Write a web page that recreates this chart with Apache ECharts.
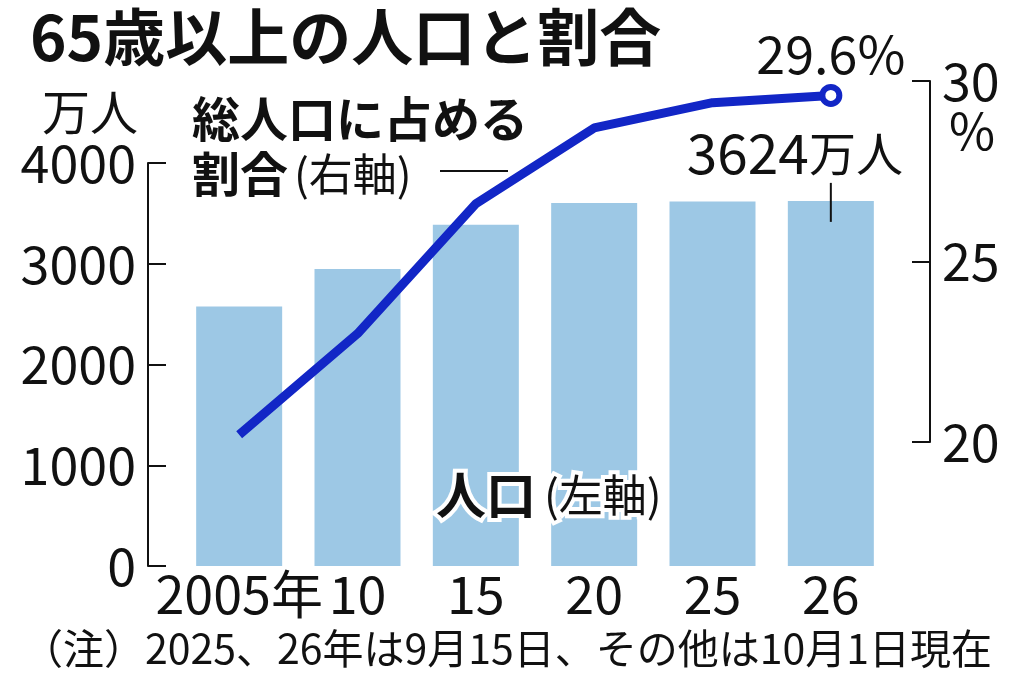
<!DOCTYPE html>
<html>
<head>
<meta charset="UTF-8">
<title>65歳以上の人口と割合</title>
<script src="https://cdn.jsdelivr.net/npm/echarts@6/dist/echarts.min.js"></script>
<style>
html, body { margin: 0; padding: 0; background: #fff; }
#chart { width: 1024px; height: 678px; }
</style>
</head>
<body>
<div id="chart"></div>
<script>
// データ
var years = ['2005年', '10', '15', '20', '25', '26'];
var population = [2576, 2948, 3387, 3603, 3619, 3624];   // 万人（左軸）
var share = [20.2, 23.0, 26.6, 28.7, 29.4, 29.6];        // %（右軸）
var popAxis = { min: 0, max: 4000, interval: 1000 };
var shareAxis = { min: 20, max: 30, interval: 5 };

var FONT = "'Noto Sans CJK JP', 'Noto Sans', sans-serif";
var INK = '#111';
var BLUE = '#1226c6';
var BAR = '#9dc8e5';

var chart = echarts.init(document.getElementById('chart'));
var last = share.length - 1;

// 最後の点だけ白抜きの丸と数値ラベル
var lineData = share.map(function (v, i) {
	if (i !== last) return v;
	return {
		value: v,
		symbol: 'circle',
		symbolSize: 17,
		label: {
			show: true, position: 'top', distance: 4,
			formatter: '{c}%', fontSize: 52, color: INK, fontFamily: FONT
		}
	};
});

var barData = population.map(function (v, i) {
	if (i !== last) return v;
	return {
		value: v,
		label: {
			show: true, position: 'top', distance: 20, offset: [-36, 0],
			formatter: '{n|{c}}{u|万人}',
			rich: {
				n: { fontSize: 55, color: INK, fontFamily: FONT },
				u: { fontSize: 47, color: INK, fontFamily: FONT }
			}
		}
	};
});

function axisStyle() {
	return {
		axisLine: { show: true, lineStyle: { color: INK, width: 2 } },
		axisTick: { show: true, inside: true, length: 18, lineStyle: { color: INK, width: 2 } },
		splitLine: { show: false },
		axisLabel: {
			fontSize: 52, color: INK, fontFamily: FONT, margin: 12,
			formatter: function (v) { return String(v); }
		}
	};
}

var yLeft = Object.assign({ type: 'value', gridIndex: 0, position: 'left', offset: 32 }, popAxis, axisStyle());
var yRight = Object.assign({ type: 'value', gridIndex: 1, position: 'right', offset: 40 }, shareAxis, axisStyle());

var option = {
	backgroundColor: '#fff',
	animation: false,
	textStyle: { fontFamily: FONT },
	grid: [
		{ left: 180, right: 134, top: 163, bottom: 112 },   // 棒グラフ
		{ left: 180, right: 134, top: 81, bottom: 236 }     // 折れ線
	],
	xAxis: [
		{
			type: 'category', gridIndex: 0, data: years,
			axisLine: { show: false }, axisTick: { show: false },
			axisLabel: { interval: 0, fontSize: 52, color: INK, fontFamily: FONT, margin: 2 }
		},
		{ type: 'category', gridIndex: 1, data: years, show: false }
	],
	yAxis: [yLeft, yRight],
	series: [
		{
			type: 'bar', xAxisIndex: 0, yAxisIndex: 0,
			data: barData, barWidth: 86,
			itemStyle: { color: BAR }
		},
		{
			type: 'line', xAxisIndex: 1, yAxisIndex: 1,
			data: lineData, symbol: 'none', showSymbol: true,
			lineStyle: { color: BLUE, width: 9 },
			itemStyle: { color: '#fff', borderColor: BLUE, borderWidth: 6 },
			z: 5
		}
	],
	graphic: [
		{
			type: 'text', x: 30, y: 37,
			style: {
				text: '65歳以上の人口と割合', fontSize: 62, fontWeight: 'bold', fontFamily: FONT,
				fill: INK, align: 'left', verticalAlign: 'middle'
			}
		},
		{
			type: 'text', x: 90, y: 112,
			style: {
				text: '万人', fontSize: 48, fontFamily: FONT, fill: INK,
				align: 'center', verticalAlign: 'middle'
			}
		},
		{
			type: 'text', x: 192, y: 119,
			style: {
				text: '総人口に占める', fontSize: 48, fontWeight: 'bold', fontFamily: FONT,
				fill: INK, align: 'left', verticalAlign: 'middle'
			}
		},
		{
			type: 'text', x: 192, y: 174,
			style: {
				text: '{b|割合}{r|(右軸)}', fill: INK, align: 'left', verticalAlign: 'middle',
				rich: {
					b: { fontSize: 48, fontWeight: 'bold', fontFamily: FONT, fill: INK },
					r: { fontSize: 44, fontFamily: FONT, fill: INK, padding: [0, 0, 0, 6] }
				}
			}
		},
		{
			type: 'line', shape: { x1: 440, y1: 171, x2: 508, y2: 171 },
			style: { stroke: INK, lineWidth: 2 }
		},
		{
			type: 'text', x: 436, y: 495, z: 100,
			style: {
				text: '{b|人口}{r|(左軸)}', fill: INK, stroke: '#fff', lineWidth: 8,
				align: 'left', verticalAlign: 'middle',
				rich: {
					b: { fontSize: 50, fontWeight: 'bold', fontFamily: FONT, fill: INK, stroke: '#fff', lineWidth: 8 },
					r: { fontSize: 44, fontFamily: FONT, fill: INK, stroke: '#fff', lineWidth: 8, padding: [0, 0, 0, 8] }
				}
			}
		},
		{
			type: 'text', x: 972, y: 131,
			style: {
				text: '%', fontSize: 50, fontFamily: FONT, fill: INK,
				align: 'center', verticalAlign: 'middle'
			}
		},
		{
			type: 'text', x: 22, y: 648,
			style: {
				text: '（注）2025、26年は9月15日、その他は10月1日現在', fontSize: 41, fontFamily: FONT,
				fill: INK, align: 'left', verticalAlign: 'middle'
			}
		}
	]
};

chart.setOption(option);

// 最後の棒から「3624万人」への引き出し線
var top26 = chart.convertToPixel({ seriesIndex: 0 }, [last, population[last]]);
chart.setOption({
	graphic: [{
		id: 'leader', type: 'line',
		shape: { x1: top26[0], y1: top26[1] - 18, x2: top26[0], y2: top26[1] + 21 },
		style: { stroke: INK, lineWidth: 2 }, z: 100
	}]
});
</script>
</body>
</html>
